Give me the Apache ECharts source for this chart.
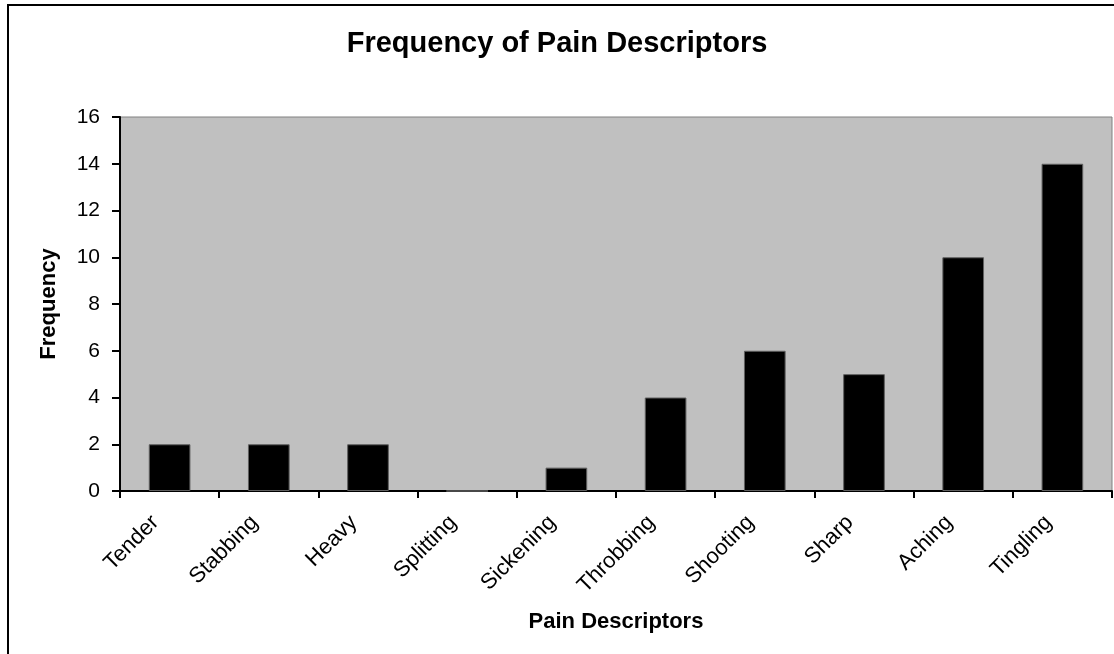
<!DOCTYPE html>
<html>
<head>
<meta charset="utf-8">
<script src="https://cdn.jsdelivr.net/npm/echarts@6/dist/echarts.min.js"></script>
<style>
  html, body { margin: 0; padding: 0; background: #fff; }
  #chart { width: 1114px; height: 654px; }
</style>
</head>
<body>
<div id="chart"></div>
<script>
const categories = ['Tender', 'Stabbing', 'Heavy', 'Splitting', 'Sickening', 'Throbbing', 'Shooting', 'Sharp', 'Aching', 'Tingling']
const frequency = [2, 2, 2, 0, 1, 4, 6, 5, 10, 14]

const FONT = 'Liberation Sans, Arial, sans-serif'

const chart = echarts.init(document.getElementById('chart'))
chart.setOption({
  animation: false,
  backgroundColor: '#fff',
  title: {
    text: 'Frequency of Pain Descriptors',
    left: 'center',
    top: 24,
    textStyle: { fontFamily: FONT, fontSize: 29, fontWeight: 'bold', color: '#000' }
  },
  graphic: [{
    type: 'rect',
    shape: { x: 8, y: 5, width: 1120, height: 670 },
    style: { fill: 'none', stroke: '#000', lineWidth: 2 },
    silent: true
  }],
  grid: {
    left: 120, right: 2, top: 117, bottom: 163,
    show: true,
    backgroundColor: '#c0c0c0',
    borderColor: '#808080',
    borderWidth: 1
  },
  xAxis: {
    type: 'category',
    data: categories,
    name: 'Pain Descriptors',
    nameLocation: 'middle',
    nameGap: 120,
    nameTextStyle: { fontFamily: FONT, fontSize: 22, fontWeight: 'bold', color: '#000' },
    axisLine: { lineStyle: { color: '#000', width: 2 } },
    axisTick: { show: true, inside: false, length: 7, lineStyle: { color: '#000', width: 2 } },
    axisLabel: { rotate: 45, fontFamily: FONT, fontSize: 22, color: '#000', margin: 14, padding: [0, 20, 0, 0] }
  },
  yAxis: {
    type: 'value',
    min: 0, max: 16, interval: 2,
    name: 'Frequency',
    nameLocation: 'middle',
    nameGap: 60,
    nameTextStyle: { fontFamily: FONT, fontSize: 22, fontWeight: 'bold', color: '#000' },
    axisLine: { show: true, lineStyle: { color: '#000', width: 2 } },
    axisTick: { show: true, inside: false, length: 8, lineStyle: { color: '#000', width: 2 } },
    axisLabel: { fontFamily: FONT, fontSize: 21, color: '#000', margin: 20 },
    splitLine: { show: false }
  },
  series: [{
    type: 'bar',
    data: frequency,
    barWidth: '42%',
    itemStyle: { color: '#000', borderColor: '#606060', borderWidth: 1 }
  }]
})
</script>
</body>
</html>
